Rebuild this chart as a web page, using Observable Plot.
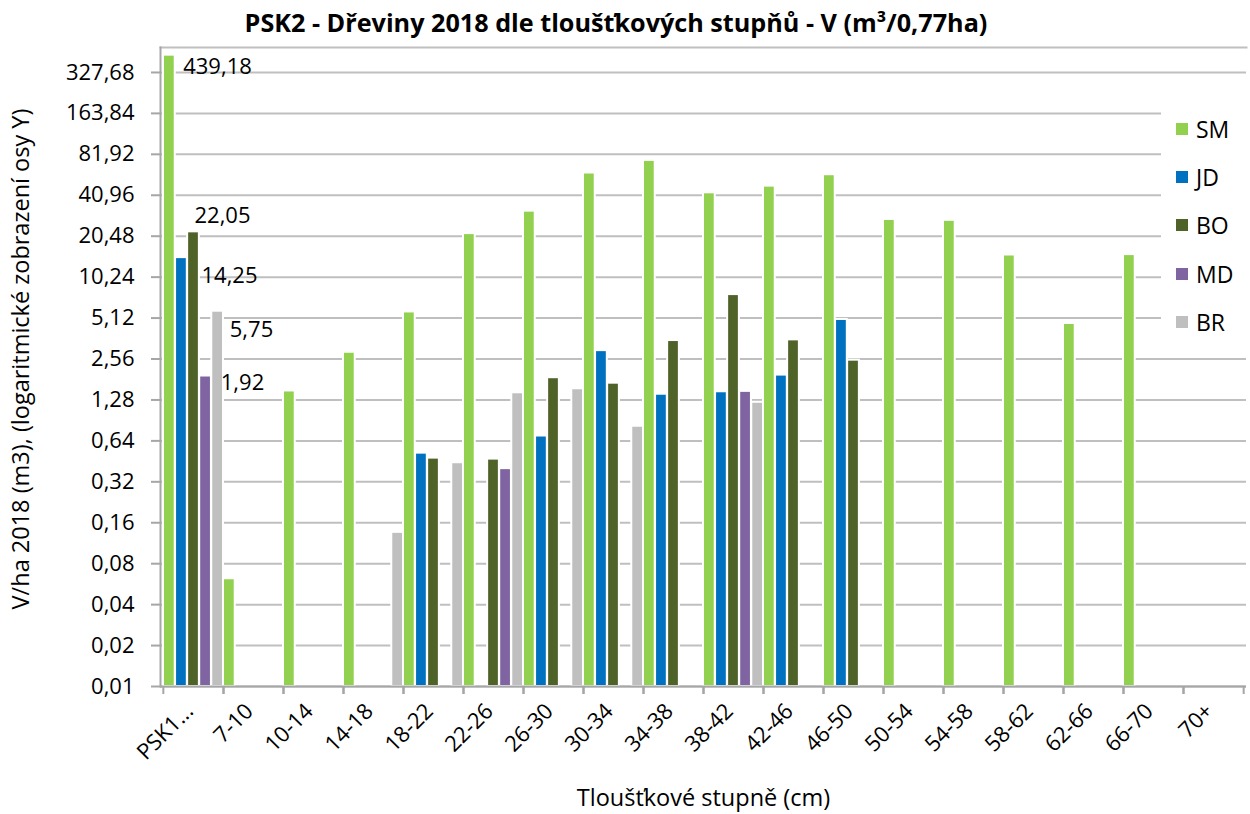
<!DOCTYPE html>
<html><head><meta charset="utf-8">
<script src="https://cdn.jsdelivr.net/npm/d3@7"></script>
<script src="https://cdn.jsdelivr.net/npm/@observablehq/plot@0.6"></script>
<style>
body{margin:0;background:#fff;font-family:"Open Sans",sans-serif;color:#000;}
#wrap{position:relative;width:1250px;height:814px;overflow:hidden;}
#title{height:40px;line-height:44px;text-align:center;font-weight:bold;font-size:25.2px;width:1232px;white-space:nowrap;}
#ytitle{position:absolute;left:-280px;top:344px;width:600px;height:30px;line-height:30px;text-align:center;font-size:23.5px;transform:rotate(-90deg);transform-origin:50% 50%;white-space:nowrap;}
#legend{position:absolute;left:1161px;top:95px;width:86px;height:246px;background:#fff;}
.item{position:absolute;left:15px;height:24px;display:flex;align-items:center;font-size:23px;}
.sw{width:12px;height:12px;margin-right:8px;}
</style></head><body>
<div id="wrap">
<div id="title">PSK2 - Dřeviny 2018 dle tloušťkových stupňů - V (m³/0,77ha)</div>
<div id="chart"></div>
<div id="ytitle"></div>
<div id="legend"></div>
</div>
<script>
const categories = ["PSK1...","7-10","10-14","14-18","18-22","22-26","26-30","30-34","34-38","38-42","42-46","46-50","50-54","54-58","58-62","62-66","66-70","70+"];
const series = ["SM","JD","BO","MD","BR"];
const colors = ["#92d050","#0070c0","#4f6228","#8064a2","#bfbfbf"];
const SM = [439.18,0.062,1.49,2.87,5.68,21.4,31.3,59.7,73.9,42.7,47.8,58.0,27.2,26.8,14.9,4.67,15.0,null];
const JD = [14.25,null,null,null,0.52,null,0.695,2.95,1.41,1.47,1.95,5.0,null,null,null,null,null,null];
const BO = [22.05,null,null,null,0.478,0.47,1.865,1.70,3.50,7.62,3.54,2.51,null,null,null,null,null,null];
const MD = [1.92,null,null,null,null,0.40,null,null,null,1.48,null,null,null,null,null,null,null,null];
const BR = [5.75,null,null,0.136,0.442,1.445,1.547,0.82,null,1.23,null,null,null,null,null,null,null,null];
const values = [SM, JD, BO, MD, BR];
const dataLabels = ["439,18","14,25","22,05","1,92","5,75"];
const yTicks = [0.01,0.02,0.04,0.08,0.16,0.32,0.64,1.28,2.56,5.12,10.24,20.48,40.96,81.92,163.84,327.68];
const yTickLabels = ["0,01","0,02","0,04","0,08","0,16","0,32","0,64","1,28","2,56","5,12","10,24","20,48","40,96","81,92","163,84","327,68"];
const yMin = 0.01, yMax = 500;
const yTitle = "V/ha 2018 (m3), (logaritmické zobrazení osy Y)";
const xTitle = "Tloušťkové stupně (cm)";

const rows = [];
categories.forEach((c, i) => series.forEach((s, j) => {
  const v = values[j][i];
  if (v != null) rows.push({cat: c, series: s, value: v});
}));

const W = 1250, H = 774, mL = 160, mR = 4, mT = 7, mB = 128;
const step = (W - mL - mR) / categories.length;
const slot = step / series.length;
const grid = "#bfbfbf", axisC = "#a6a6a6";

// label offsets (style) for the first category data labels
const labelOff = [[24, 12], [36, 18], [29, -16], [49, 7], [58, 19]];

const marks = [
  Plot.gridY(yTicks, {stroke: grid, strokeOpacity: 1, strokeWidth: 2}),
  Plot.frame({anchor: "top", stroke: grid, strokeWidth: 2}),
  ...series.map((s, j) => Plot.barY(rows.filter(d => d.series === s), {
    x: "cat", y1: yMin, y2: "value", fill: colors[j], stroke: "white", strokeWidth: 2,
    insetLeft: j * slot, insetRight: (series.length - 1 - j) * slot
  })),
  ...series.map((s, j) => Plot.text(rows.filter(d => d.series === s && d.cat === categories[0]), {
    x: "cat", y: "value", text: () => dataLabels[j], dx: labelOff[j][0], dy: labelOff[j][1],
    fontSize: 22, fill: "#000"
  })),
  Plot.ruleY([yMin], {stroke: axisC, strokeWidth: 2}),
  Plot.frame({anchor: "left", stroke: axisC, strokeWidth: 2}),
  Plot.axisY({ticks: yTicks, tickFormat: d => yTickLabels[yTicks.indexOf(d)], tickSize: 9, tickPadding: 17, stroke: axisC, strokeWidth: 2, fontSize: 22, fill: "#000", label: null}),
  Plot.axisX({tickSize: 8, tickFormat: () => "", dx: -step / 2, stroke: axisC, strokeWidth: 2, label: null}),
  Plot.axisX({tickSize: 8, tickFormat: () => "", dx: step / 2, stroke: axisC, strokeWidth: 2, label: null}),
  Plot.axisX({tickSize: 0, tickRotate: -45, tickPadding: 10, dx: -4, dy: 11, fontSize: 22, fill: "#000", label: null}),
  Plot.text([xTitle], {frameAnchor: "bottom", dy: 119, fontSize: 23.5, fill: "#000"})
];

const chart = Plot.plot({
  width: W, height: H, marginLeft: mL, marginRight: mR, marginTop: mT, marginBottom: mB,
  style: {fontFamily: "Open Sans", fontSize: "22px", background: "#fff", color: "#000"},
  x: {domain: categories, padding: 0, axis: null},
  y: {type: "log", base: 2, domain: [yMin, yMax], axis: null},
  marks
});
document.getElementById("chart").appendChild(chart);
document.getElementById("ytitle").textContent = yTitle;

const legend = document.getElementById("legend");
series.forEach((s, j) => {
  const it = document.createElement("div");
  it.className = "item";
  it.style.top = (22 + j * 48.2) + "px";
  it.innerHTML = `<span class="sw" style="background:${colors[j]}"></span><span>${s}</span>`;
  legend.appendChild(it);
});
</script>
</body></html>
